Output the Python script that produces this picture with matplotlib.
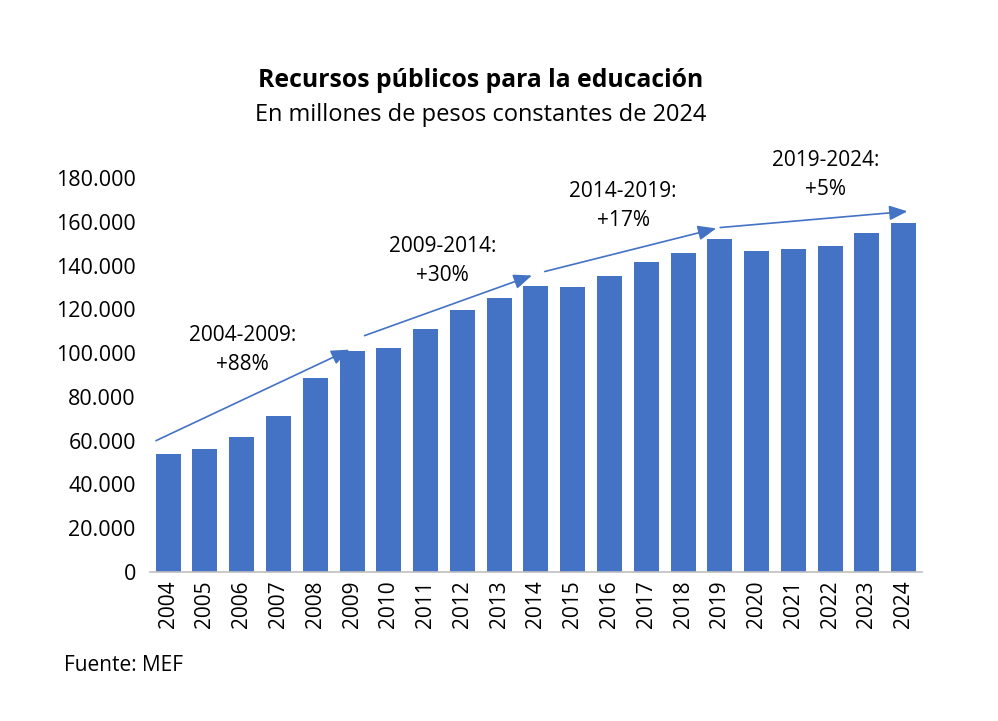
import matplotlib
matplotlib.use("Agg")
import matplotlib.pyplot as plt
from matplotlib.ticker import FuncFormatter

plt.rcParams['font.family'] = ['Open Sans', 'DejaVu Sans']

years = [str(y) for y in range(2004, 2025)]
values = [54000, 56300, 61800, 71400, 88700, 100800, 102400, 111200, 119500,
          125000, 130600, 130300, 135300, 141700, 145700, 152100, 146500,
          147700, 148900, 155000, 159600]

# growth labels and the arrows (start/end as bar index, value)
period_labels = ["2004-2009:\n+88%", "2009-2014:\n+30%", "2014-2019:\n+17%", "2019-2024:\n+5%"]
label_pos = [(2.02, 101600), (7.47, 142100), (12.37, 167300), (17.87, 181500)]
arrow_start = [(-0.33, 60000), (5.34, 108000), (10.24, 137300), (15.01, 157400)]
arrow_end = [(4.93, 101600), (9.89, 135500), (14.9, 157000), (20.1, 164800)]

blue = "#4472C4"

fig = plt.figure(figsize=(9.98, 7.21), dpi=100)
ax = fig.add_axes([0.150, 0.2067, 0.774, 0.5463])

x = range(len(years))
ax.bar(x, values, width=0.68, color=blue, zorder=2)

ax.set_xlim(-0.5, len(years) - 0.5)
ax.set_ylim(0, 180000)
ax.set_yticks(range(0, 180001, 20000))
ax.yaxis.set_major_formatter(FuncFormatter(lambda v, p: "0" if v == 0 else f"{int(v):,}".replace(",", ".")))
ax.set_xticks(list(x))
ax.set_xticklabels(years, rotation=90)
ax.tick_params(axis="both", length=0, colors="black")
ax.tick_params(axis="y", pad=10, labelsize=15.5)
ax.tick_params(axis="x", pad=6, labelsize=15)

for s in ["top", "right", "left"]:
    ax.spines[s].set_visible(False)
ax.spines["bottom"].set_color("#BFBFBF")
ax.spines["bottom"].set_linewidth(1.2)

for (x0, y0), (x1, y1) in zip(arrow_start, arrow_end):
    ax.annotate("", xy=(x1, y1), xytext=(x0, y0),
                arrowprops=dict(arrowstyle="-|>,head_length=1.1,head_width=0.45",
                                color=blue, lw=1.2, shrinkA=0, shrinkB=0),
                zorder=3, annotation_clip=False)

for lab, (lx, ly) in zip(period_labels, label_pos):
    ax.text(lx, ly, lab, ha="center", va="center", fontsize=15,
            linespacing=1.5)

fig.text(0.482, 0.889, "Recursos públicos para la educación", ha="center",
         va="center", fontsize=17.8, fontweight="bold")
fig.text(0.482, 0.841, "En millones de pesos constantes de 2024", ha="center",
         va="center", fontsize=17)
fig.text(0.064, 0.077, "Fuente: MEF", ha="left", va="center", fontsize=15)

fig.savefig("out.png", dpi=100)
